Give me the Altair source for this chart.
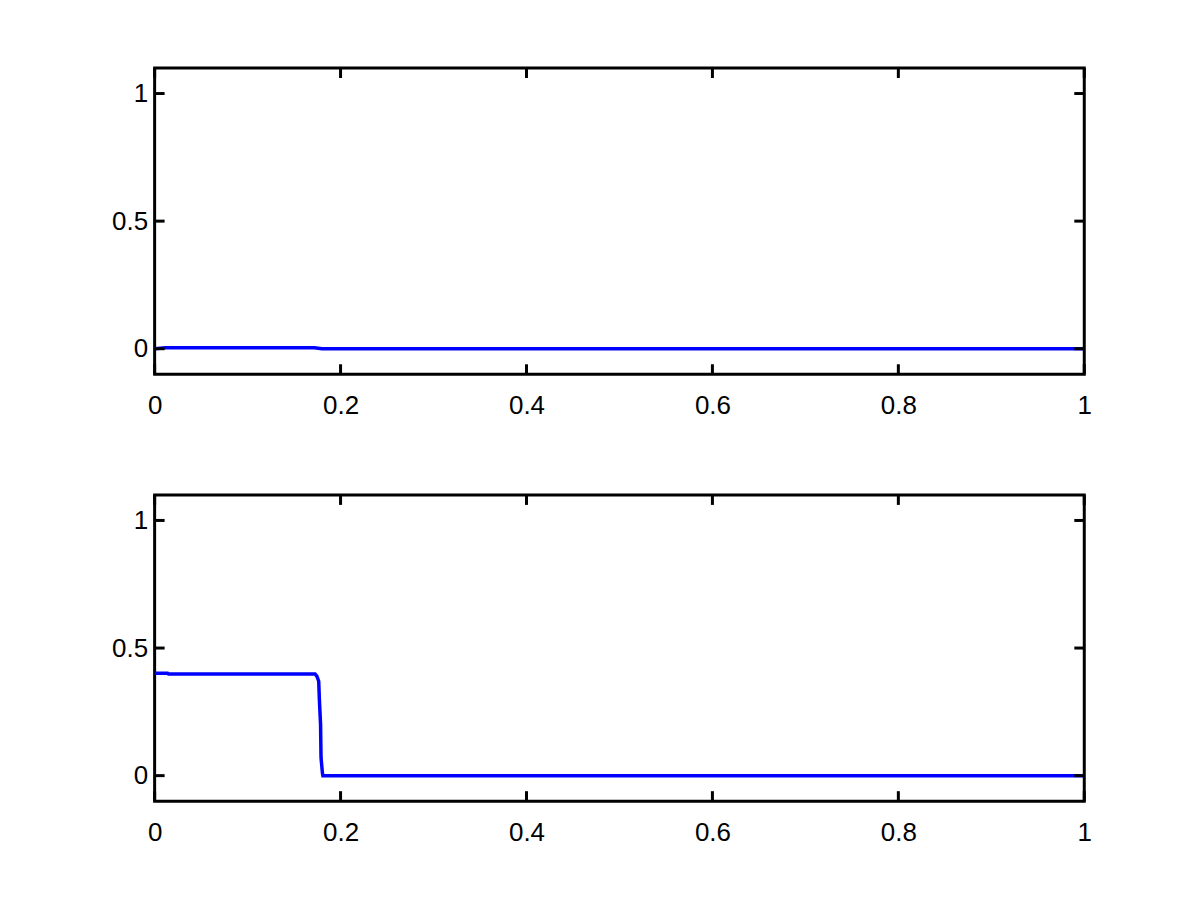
import altair as alt
import pandas as pd

top_x = [0.0, 0.012, 0.172, 0.176, 0.18, 1.0]
top_y = [0.0, 0.004, 0.004, 0.002, 0.0, 0.0]

bot_x = [0.0, 0.014, 0.015, 0.1726, 0.1745, 0.1765, 0.1772, 0.1785, 0.179, 0.1805, 0.181, 1.0]
bot_y = [0.401, 0.401, 0.398, 0.398, 0.39, 0.37, 0.3, 0.2, 0.07, 0.01, 0.0, 0.0]

x_ticks = [0.0, 0.2, 0.4, 0.6, 0.8, 1.0]
y_ticks = [0.0, 0.5, 1.0]

W, H = 932, 307
TL = 10
FONT = "Liberation Sans"

xs = alt.Scale(domain=[0, 1], nice=False, zero=False)
ys = alt.Scale(domain=[-0.1, 1.1], nice=False, zero=False)


def panel(xv, yv):
    df = pd.DataFrame({"x": xv, "y": yv})
    xt = pd.DataFrame({"t": x_ticks})
    yt = pd.DataFrame({"t": y_ticks})
    line = alt.Chart(df).mark_line(color="#0000FF", strokeWidth=3.5, clip=True).encode(
        x=alt.X("x:Q", scale=xs, title=None,
                axis=alt.Axis(values=x_ticks, format="~g", tickSize=0, domain=False,
                              grid=False, labelPadding=18, labelFontSize=26, labelFont=FONT,
                              labelColor="black", labelFlush=False)),
        y=alt.Y("y:Q", scale=ys, title=None,
                axis=alt.Axis(values=y_ticks, format="~g", tickSize=0, domain=False,
                              grid=False, labelPadding=7, labelFontSize=26, labelFont=FONT,
                              labelColor="black", labelFlush=False)),
        order="x:Q",
    )
    xb = alt.Chart(xt).mark_rule(color="black", strokeWidth=3).encode(
        x=alt.X("t:Q", scale=xs), y=alt.value(H), y2=alt.value(H - TL))
    xtp = alt.Chart(xt).mark_rule(color="black", strokeWidth=3).encode(
        x=alt.X("t:Q", scale=xs), y=alt.value(0), y2=alt.value(TL))
    yl = alt.Chart(yt).mark_rule(color="black", strokeWidth=3).encode(
        y=alt.Y("t:Q", scale=ys), x=alt.value(0), x2=alt.value(TL))
    yr = alt.Chart(yt).mark_rule(color="black", strokeWidth=3).encode(
        y=alt.Y("t:Q", scale=ys), x=alt.value(W), x2=alt.value(W - TL))
    return alt.layer(line, xb, xtp, yl, yr).properties(width=W, height=H)


chart = alt.vconcat(panel(top_x, top_y), panel(bot_x, bot_y), spacing=72).properties(
    padding={"left": 102, "top": 56, "right": 100, "bottom": 80},
    background="white",
).configure_view(stroke="black", strokeWidth=3)

chart.save("out.html", embed_options={"renderer": "svg", "actions": False})
